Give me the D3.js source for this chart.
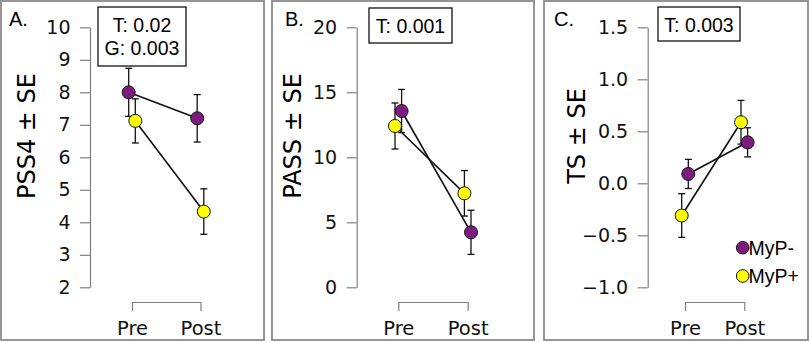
<!DOCTYPE html>
<html>
<head>
<meta charset="utf-8">
<script src="https://cdn.jsdelivr.net/npm/d3@7"></script>
<style>
  body { margin: 0; background: #fff; }
  svg { display: block; }
</style>
</head>
<body>
<svg width="810" height="343"></svg>
<script>
// values
const timeLabels = ["Pre", "Post"];
const groupNames = ["MyP-", "MyP+"];
const groupColors = ["#7b1c7e", "#ffff00"];

// A. PSS4
const pss4MeanMinus = [8.0, 7.2];
const pss4SeMinus = [0.74, 0.73];
const pss4MeanPlus = [7.12, 4.33];
const pss4SePlus = [0.68, 0.70];
const pss4Ticks = [2, 3, 4, 5, 6, 7, 8, 9, 10];
const pss4Stats = ["T: 0.02", "G: 0.003"];

// B. PASS
const passMeanMinus = [13.56, 4.23];
const passSeMinus = [1.66, 1.70];
const passMeanPlus = [12.41, 7.23];
const passSePlus = [1.77, 1.75];
const passTicks = [0, 5, 10, 15, 20];
const passStats = ["T: 0.001"];

// C. TS
const tsMeanMinus = [0.09, 0.394];
const tsSeMinus = [0.14, 0.14];
const tsMeanPlus = [-0.31, 0.587];
const tsSePlus = [0.21, 0.21];
const tsTicks = [-1.0, -0.5, 0.0, 0.5, 1.0, 1.5];
const tsStats = ["T: 0.003"];

let svg;
const yTop = 27.3;
const yBottom = 287.3;
const capHalf = 3.5;

// layout for each panel (frame, axis, where Pre/Post sit, which side purple dodges to)
const panels = [
  {letter: "A.", letterX: 9, title: "PSS4 ± SE", titleX: 27, left: 1, right: 264,
   axisX: 90, xRange: [132, 200.5], dodge: -3.3, fmt: d3.format("d"), ticks: pss4Ticks,
   minus: [pss4MeanMinus, pss4SeMinus], plus: [pss4MeanPlus, pss4SePlus],
   stats: pss4Stats, box: {x: 98, y: 7, w: 88, h: 59}, legend: false},
  {letter: "B.", letterX: 285, title: "PASS ± SE", titleX: 293, left: 272, right: 534,
   axisX: 356.7, xRange: [398.3, 467.7], dodge: 3.3, fmt: d3.format("d"), ticks: passTicks,
   minus: [passMeanMinus, passSeMinus], plus: [passMeanPlus, passSePlus],
   stats: passStats, box: {x: 369, y: 8, w: 83, h: 35}, legend: false},
  {letter: "C.", letterX: 554, title: "TS ± SE", titleX: 577, left: 544, right: 808,
   axisX: 647.7, xRange: [685, 744.3], dodge: 3.3, fmt: d3.format(".1f"), ticks: tsTicks,
   minus: [tsMeanMinus, tsSeMinus], plus: [tsMeanPlus, tsSePlus],
   stats: tsStats, box: {x: 658, y: 7, w: 82, h: 34}, legend: true}
];

document.addEventListener('DOMContentLoaded', function () {
  svg = d3.select('svg');
  panels.forEach(drawPanel);
});

function drawPanel(p) {
  const g = svg.append('g');

  // frame
  g.append('rect')
    .attr('x', p.left).attr('y', 1)
    .attr('width', p.right - p.left).attr('height', 339)
    .attr('fill', 'none').attr('stroke', '#8a8a8a').attr('stroke-width', 1.8);

  const yScale = d3.scaleLinear().domain(d3.extent(p.ticks)).range([yBottom, yTop]);
  const xScale = d3.scalePoint().domain(timeLabels).range(p.xRange);

  // y axis, R style (line only between first and last tick)
  const yAxis = g.append('g')
    .attr('transform', `translate(${p.axisX},0)`)
    .call(d3.axisLeft(yScale).tickValues(p.ticks).tickFormat(p.fmt)
      .tickSize(10).tickSizeOuter(0).tickPadding(9.5));
  yAxis.select('.domain').attr('stroke', '#808080').attr('stroke-width', 1.2);
  yAxis.selectAll('.tick line').attr('stroke', '#808080').attr('stroke-width', 1.2);
  yAxis.selectAll('text')
    .attr('font-family', 'DejaVu Sans').attr('font-size', 19).attr('fill', '#111');

  // x "bracket" axis
  const xAxis = g.append('g')
    .attr('transform', 'translate(0,302)')
    .call(d3.axisBottom(xScale).tickSize(9).tickSizeOuter(0).tickPadding(10));
  xAxis.select('.domain').attr('stroke', '#808080').attr('stroke-width', 1.2);
  xAxis.selectAll('.tick line').attr('stroke', '#808080').attr('stroke-width', 1.2);
  xAxis.selectAll('text')
    .attr('font-family', 'DejaVu Sans').attr('font-size', 19.5).attr('fill', '#111');

  // y title
  g.append('text')
    .attr('transform', `translate(${p.titleX},136) rotate(-90)`)
    .attr('text-anchor', 'middle')
    .attr('dominant-baseline', 'central')
    .attr('font-family', 'DejaVu Sans').attr('font-size', 24)
    .text(p.title);

  // panel letter
  g.append('text')
    .attr('x', p.letterX).attr('y', 26)
    .attr('font-family', 'Liberation Sans').attr('font-size', 20)
    .text(p.letter);

  // stats box
  g.append('rect')
    .attr('x', p.box.x).attr('y', p.box.y)
    .attr('width', p.box.w).attr('height', p.box.h)
    .attr('fill', '#fff').attr('stroke', '#111').attr('stroke-width', 1.3);
  g.selectAll('.stat')
    .data(p.stats)
    .join('text')
    .attr('class', 'stat')
    .attr('x', p.box.x + p.box.w / 2)
    .attr('y', (d, i) => p.box.y + 25.3 + i * 22.7)
    .attr('text-anchor', 'middle')
    .attr('font-family', 'Liberation Sans').attr('font-size', 19.5)
    .text(d => d);

  // build the two series
  const series = [p.plus, p.minus].map((s, k) => {
    const gi = k === 0 ? 1 : 0;  // draw MyP+ first, MyP- on top
    const side = gi === 0 ? 1 : -1;
    return {
      color: groupColors[gi],
      pts: timeLabels.map((t, i) => ({
        x: xScale(t) + side * p.dodge,
        mean: s[0][i],
        se: s[1][i]
      }))
    };
  });

  // error bars
  series.forEach(s => {
    const eb = g.append('g').attr('stroke', '#111').attr('stroke-width', 1.3);
    eb.selectAll('.eb')
      .data(s.pts)
      .join('line')
      .attr('x1', d => d.x).attr('x2', d => d.x)
      .attr('y1', d => yScale(d.mean + d.se))
      .attr('y2', d => yScale(d.mean - d.se));
    eb.selectAll('.capTop')
      .data(s.pts)
      .join('line')
      .attr('x1', d => d.x - capHalf).attr('x2', d => d.x + capHalf)
      .attr('y1', d => yScale(d.mean + d.se)).attr('y2', d => yScale(d.mean + d.se));
    eb.selectAll('.capBot')
      .data(s.pts)
      .join('line')
      .attr('x1', d => d.x - capHalf).attr('x2', d => d.x + capHalf)
      .attr('y1', d => yScale(d.mean - d.se)).attr('y2', d => yScale(d.mean - d.se));
  });

  // connecting lines
  const line = d3.line().x(d => d.x).y(d => yScale(d.mean));
  series.forEach(s => {
    g.append('path')
      .attr('d', line(s.pts))
      .attr('fill', 'none').attr('stroke', '#111').attr('stroke-width', 1.6);
  });

  // points
  series.forEach(s => {
    g.append('g').selectAll('circle')
      .data(s.pts)
      .join('circle')
      .attr('cx', d => d.x).attr('cy', d => yScale(d.mean))
      .attr('r', 6.5)
      .attr('fill', s.color).attr('stroke', '#111').attr('stroke-width', 1);
  });

  if (p.legend) {
    const lg = g.append('g');
    groupNames.forEach((name, i) => {
      lg.append('circle')
        .attr('cx', 742.7).attr('cy', 247.7 + i * 28.3).attr('r', 6.3)
        .attr('fill', groupColors[i]).attr('stroke', '#111').attr('stroke-width', 1);
      lg.append('text')
        .attr('x', 748.5).attr('y', 254.5 + i * 28.3)
        .attr('font-family', 'Liberation Sans').attr('font-size', 19.5)
        .text(name);
    });
  }
}
</script>
</body>
</html>
